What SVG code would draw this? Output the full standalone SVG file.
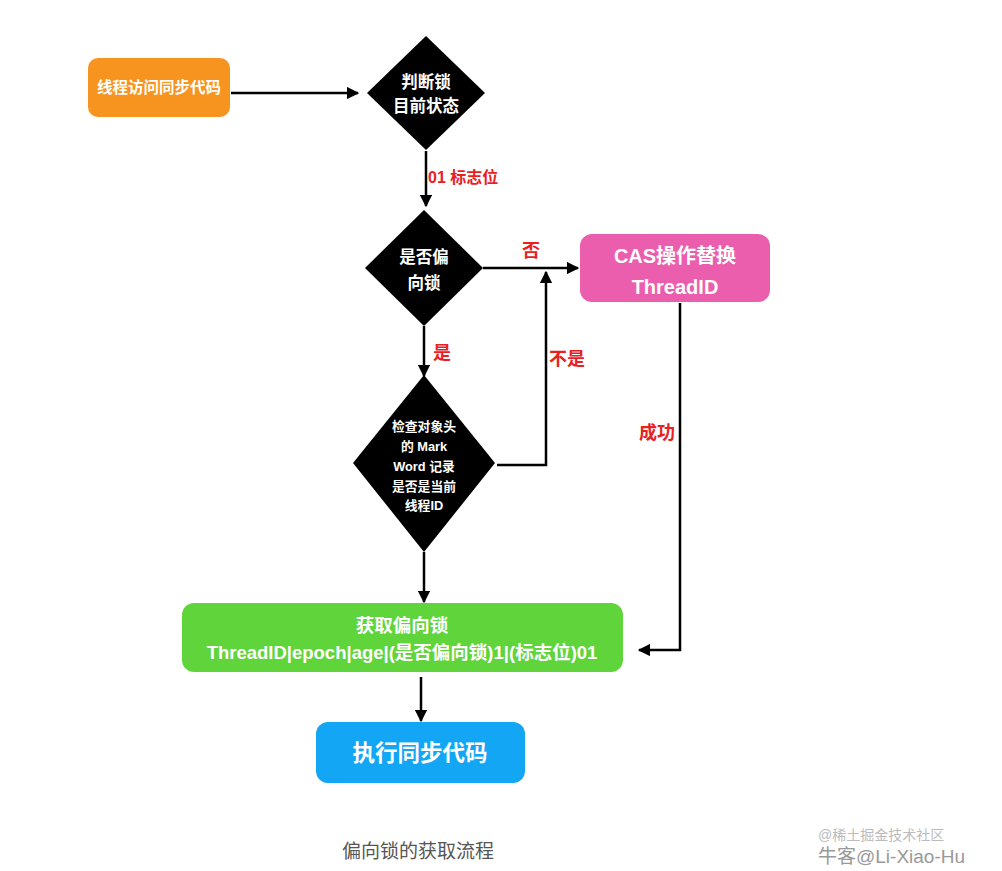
<svg xmlns="http://www.w3.org/2000/svg" width="1002" height="871" viewBox="0 0 1002 871">
<defs>
<style>
.t{font-family:"Liberation Sans","Noto Sans CJK SC",sans-serif;fill:#fff;text-anchor:middle;font-weight:bold}
.lbl{font-family:"Liberation Sans","Noto Sans CJK SC",sans-serif;fill:#e8201f;font-weight:bold;font-size:18px}
.ln{stroke:#000;stroke-width:2.5;fill:none}
</style>
<marker id="ah" viewBox="0 0 10 10" refX="9" refY="5" markerWidth="5" markerHeight="5" orient="auto" markerUnits="strokeWidth">
<path d="M0,0 L10,5 L0,10 Z" fill="#000"/>
</marker>
</defs>
<rect width="1002" height="871" fill="#fff"/>
<g id="connectors">
<line class="ln" x1="231" y1="93" x2="358" y2="93" marker-end="url(#ah)"/>
<line class="ln" x1="426" y1="151" x2="426" y2="206" marker-end="url(#ah)"/>
<line class="ln" x1="483" y1="268" x2="578" y2="268" marker-end="url(#ah)"/>
<line class="ln" x1="424" y1="326" x2="424" y2="376" marker-end="url(#ah)"/>
<polyline class="ln" points="497,465 546,465 546,272" marker-end="url(#ah)"/>
<polyline class="ln" points="680,303 680,650 639,650" marker-end="url(#ah)"/>
<line class="ln" x1="424" y1="552" x2="424" y2="602" marker-end="url(#ah)"/>
<line class="ln" x1="421" y1="677" x2="421" y2="721" marker-end="url(#ah)"/>
<text class="lbl" x="428" y="183" style="font-size:16px">01 标志位</text>
<text class="lbl" x="522" y="257">否</text>
<text class="lbl" x="433" y="359">是</text>
<text class="lbl" x="549" y="365">不是</text>
<text class="lbl" x="639" y="439">成功</text>
</g>
<g id="start">
<rect x="88" y="58" width="142" height="59" rx="10" fill="#f7941f"/>
<text class="t" x="159" y="93" font-size="15.5">线程访问同步代码</text>
</g>
<g id="judge-lock">
<polygon points="426,36 485,93 426,150 367,93" fill="#000"/>
<text class="t" x="426" y="88" font-size="16.5">判断锁</text>
<text class="t" x="426" y="112" font-size="16.5">目前状态</text>
</g>
<g id="is-biased">
<polygon points="424,210 483,268 424,326 365,268" fill="#000"/>
<text class="t" x="424" y="263" font-size="16.5">是否偏</text>
<text class="t" x="424" y="289" font-size="16.5">向锁</text>
</g>
<g id="cas">
<rect x="580" y="234" width="190" height="68" rx="12" fill="#eb5eae"/>
<text class="t" x="675" y="263" font-size="20">CAS操作替换</text>
<text class="t" x="675" y="294" font-size="20">ThreadID</text>
</g>
<g id="check-markword">
<polygon points="424,375 495,463 424,552 353,463" fill="#000"/>
<text class="t" x="424" y="431" font-size="12.8">检查对象头</text>
<text class="t" x="424" y="451" font-size="12.8">的 Mark</text>
<text class="t" x="424" y="471" font-size="12.8">Word 记录</text>
<text class="t" x="424" y="491" font-size="12.8">是否是当前</text>
<text class="t" x="424" y="510" font-size="12.8">线程ID</text>
</g>
<g id="acquire">
<rect x="182" y="603" width="441" height="69" rx="12" fill="#5fd43b"/>
<text class="t" x="402" y="632" font-size="18.5">获取偏向锁</text>
<text class="t" x="402" y="659" font-size="18.5">ThreadID|epoch|age|(是否偏向锁)1|(标志位)01</text>
</g>
<g id="execute">
<rect x="316" y="722" width="209" height="61" rx="12" fill="#12a6f5"/>
<text class="t" x="420" y="761" font-size="22.5">执行同步代码</text>
</g>
<text x="342" y="858" font-family="Liberation Sans,Noto Sans CJK SC,sans-serif" font-size="19" fill="#555">偏向锁的获取流程</text>
<text x="818" y="840" font-family="Liberation Sans,Noto Sans CJK SC,sans-serif" font-size="14" fill="#bbb">@稀土掘金技术社区</text>
<text x="818" y="863" font-family="Liberation Sans,Noto Sans CJK SC,sans-serif" font-size="19" fill="#999">牛客@Li-Xiao-Hu</text>
</svg>
